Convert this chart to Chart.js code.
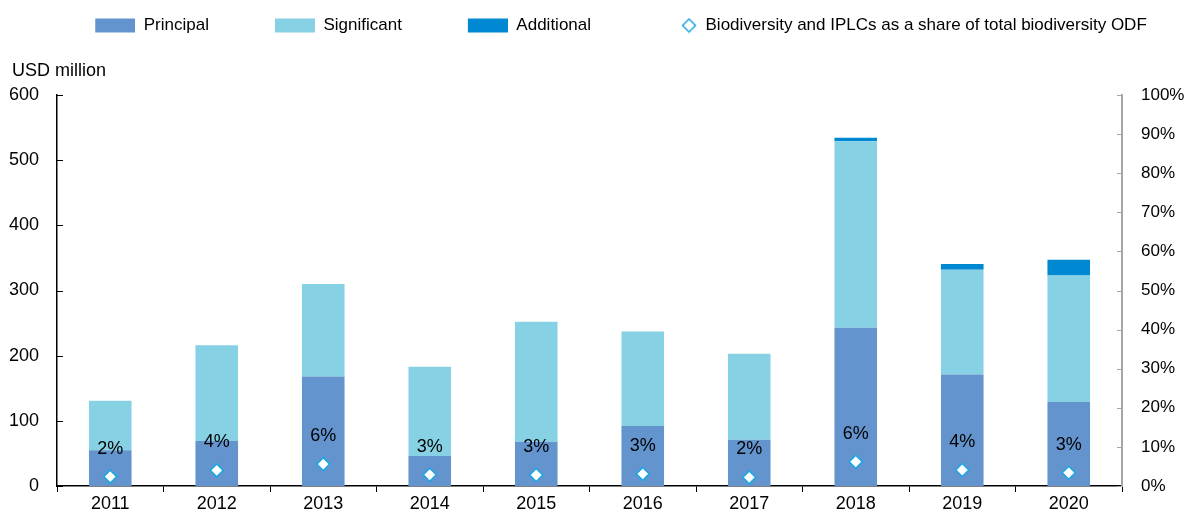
<!DOCTYPE html>
<html>
<head>
<meta charset="utf-8">
<script src="https://cdn.jsdelivr.net/npm/chart.js@4.4.1/dist/chart.umd.min.js"></script>
<style>
  html, body { margin: 0; padding: 0; background: #fff; }
  #wrap { width: 1186px; height: 513px; }
</style>
</head>
<body>
<div id="wrap"><canvas id="chart"></canvas></div>
<script>
// data
const years = ['2011', '2012', '2013', '2014', '2015', '2016', '2017', '2018', '2019', '2020'];
const principal = [55, 69, 168, 46, 68, 92, 71, 243, 171, 129];
const significant = [76, 147, 142, 137, 184, 145, 132, 286, 161, 194];
const additional = [0, 0, 0, 0, 0, 0, 0, 5.5, 8.5, 24];
const share = [2.4, 4.0, 5.6, 2.9, 2.8, 3.1, 2.2, 6.2, 4.1, 3.4]; // %
const leftTicks = [0, 100, 200, 300, 400, 500, 600];
const rightTicks = [0, 10, 20, 30, 40, 50, 60, 70, 80, 90, 100];

const FONT = '"Liberation Sans", Arial, sans-serif';
const FS = 18;
const C_PRIN = '#6394CE';
const C_SIG = '#86D1E4';
const C_ADD = '#0089D2';
const C_LINE = '#1AA6E4';
const GAP = 56; // blank space before each legend swatch

// legend swatches as images so the built-in legend can place them
function swatch(color, diamond) {
  const c = document.createElement('canvas');
  c.width = 40 + GAP;
  c.height = 16;
  const ctx = c.getContext('2d');
  if (diamond) {
    const cx = c.width - 8, cy = 8, r = 6.5;
    ctx.beginPath();
    ctx.moveTo(cx, cy - r);
    ctx.lineTo(cx + r, cy);
    ctx.lineTo(cx, cy + r);
    ctx.lineTo(cx - r, cy);
    ctx.closePath();
    ctx.fillStyle = '#fff';
    ctx.fill();
    ctx.lineWidth = 1.5;
    ctx.strokeStyle = color;
    ctx.stroke();
  } else {
    ctx.fillStyle = color;
    ctx.fillRect(GAP, 1, 40, 14);
  }
  return c;
}

const legendHeight = {
  id: 'legendHeight',
  beforeInit(chart) {
    const fit = chart.legend.fit;
    chart.legend.fit = function () {
      fit.bind(chart.legend)();
      this.height = 88;
    };
  }
};

const extras = {
  id: 'extras',
  afterDraw(chart) {
    const ctx = chart.ctx;
    const area = chart.chartArea;
    const y = chart.scales.y, y1 = chart.scales.y1;
    ctx.save();
    // inward tick marks
    ctx.lineWidth = 1;
    ctx.strokeStyle = '#000';
    leftTicks.forEach(v => {
      const py = Math.round(y.getPixelForValue(v)) + 0.5;
      ctx.beginPath();
      ctx.moveTo(area.left, py);
      ctx.lineTo(area.left + 6, py);
      ctx.stroke();
    });
    ctx.strokeStyle = '#A6A6A6';
    rightTicks.forEach(v => {
      const py = Math.round(y1.getPixelForValue(v)) + 0.5;
      ctx.beginPath();
      ctx.moveTo(area.right - 5, py);
      ctx.lineTo(area.right, py);
      ctx.stroke();
    });
    // unit label
    ctx.fillStyle = '#000';
    ctx.font = FS + 'px ' + FONT;
    ctx.textBaseline = 'middle';
    ctx.textAlign = 'left';
    ctx.fillText('USD million', 12, area.top - 24);
    // share labels above diamonds
    const meta = chart.getDatasetMeta(3);
    ctx.textAlign = 'center';
    meta.data.forEach((pt, i) => {
      ctx.fillText(Math.round(share[i]) + '%', pt.x, pt.y - 28);
    });
    ctx.restore();
  }
};

new Chart(document.getElementById('chart'), {
  type: 'bar',
  data: {
    labels: years,
    datasets: [
      { label: 'Principal', data: principal, backgroundColor: C_PRIN, order: 1 },
      { label: 'Significant', data: significant, backgroundColor: C_SIG, order: 1 },
      { label: 'Additional', data: additional, backgroundColor: C_ADD, order: 1 },
      {
        type: 'line',
        label: 'Biodiversity and IPLCs as a share of total biodiversity ODF',
        data: share,
        yAxisID: 'y1',
        showLine: false,
        pointStyle: 'rectRot',
        pointRadius: 6.5,
        pointBorderWidth: 1.5,
        pointBackgroundColor: '#fff',
        pointBorderColor: C_LINE,
        order: 0
      }
    ]
  },
  options: {
    responsive: true,
    maintainAspectRatio: false,
    animation: false,
    layout: { padding: { top: 7, left: 0, right: 0, bottom: 0 } },
    datasets: {
      bar: { categoryPercentage: 1, barPercentage: 0.4, borderWidth: 0 }
    },
    plugins: {
      tooltip: { enabled: false },
      legend: {
        position: 'top',
        labels: {
          usePointStyle: true,
          pointStyleWidth: 40 + GAP,
          boxHeight: 14,
          padding: 10,
          color: '#000',
          font: { family: FONT, size: 17 },
          generateLabels(chart) {
            const cols = [C_PRIN, C_SIG, C_ADD];
            return chart.data.datasets.map((ds, i) => ({
              text: ds.label,
              pointStyle: swatch(i < 3 ? cols[i] : C_LINE, i === 3),
              fillStyle: i < 3 ? cols[i] : '#fff',
              strokeStyle: 'transparent',
              lineWidth: 0,
              fontColor: '#000',
              datasetIndex: i,
              hidden: false
            }));
          }
        }
      }
    },
    scales: {
      x: {
        stacked: true,
        grid: { display: true, drawOnChartArea: false, drawTicks: true, tickLength: 6, color: '#000', offset: true },
        border: { display: true, color: '#000', width: 1.5 },
        ticks: { color: '#000', padding: 1, font: { family: FONT, size: FS }, maxRotation: 0 },
        afterFit(s) { s.height = 27; }
      },
      y: {
        stacked: true,
        min: 0,
        max: 600,
        // tick marks are drawn inward by the plugin; tickLength only spaces the labels
        grid: { display: false, drawTicks: true, tickLength: 18 },
        border: { display: true, color: '#000', width: 1.5 },
        ticks: { stepSize: 100, color: '#000', padding: 0, font: { family: FONT, size: FS } },
        afterFit(s) { s.width = 57; }
      },
      y1: {
        position: 'right',
        min: 0,
        max: 100,
        grid: { display: false, drawTicks: true, tickLength: 19 },
        border: { display: true, color: '#A6A6A6', width: 2 },
        ticks: { stepSize: 10, color: '#000', padding: 0, font: { family: FONT, size: 17 }, callback: v => v + '%' },
        afterFit(s) { s.width = 64; }
      }
    }
  },
  plugins: [legendHeight, extras]
});
</script>
</body>
</html>
